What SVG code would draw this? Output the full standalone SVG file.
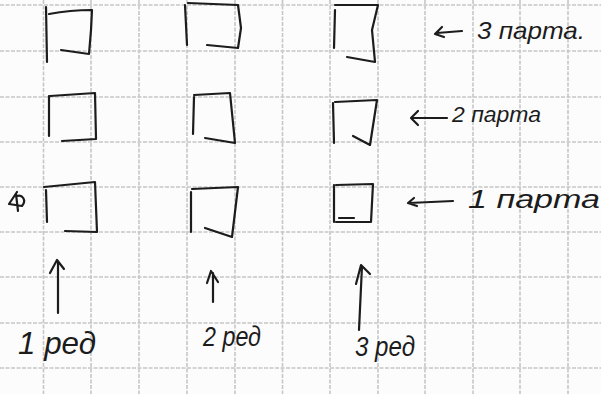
<svg xmlns="http://www.w3.org/2000/svg" width="601" height="394" viewBox="0 0 601 394">
<style>
.grid line{stroke:#c6c6c6;stroke-width:1.6;stroke-dasharray:4 1.5}
.ink{fill:none;stroke:#1c1c1c;stroke-width:2.2;stroke-linecap:round;stroke-linejoin:round}
.hand{font-family:"Liberation Sans",Arial,sans-serif;font-style:italic;fill:#1c1c1c}
</style>
<rect width="601" height="394" fill="#fcfcfc"/>
<g class="grid">
<line x1="43.5" y1="0" x2="43.5" y2="394"/>
<line x1="91" y1="0" x2="91" y2="394"/>
<line x1="139" y1="0" x2="139" y2="394"/>
<line x1="187" y1="0" x2="187" y2="394"/>
<line x1="235" y1="0" x2="235" y2="394"/>
<line x1="282.5" y1="0" x2="282.5" y2="394"/>
<line x1="330" y1="0" x2="330" y2="394"/>
<line x1="378" y1="0" x2="378" y2="394"/>
<line x1="425" y1="0" x2="425" y2="394"/>
<line x1="473" y1="0" x2="473" y2="394"/>
<line x1="520" y1="0" x2="520" y2="394"/>
<line x1="568" y1="0" x2="568" y2="394"/>
<line x1="0" y1="5" x2="601" y2="5"/>
<line x1="0" y1="51" x2="601" y2="51"/>
<line x1="0" y1="97" x2="601" y2="97"/>
<line x1="0" y1="142" x2="601" y2="142"/>
<line x1="0" y1="187" x2="601" y2="187"/>
<line x1="0" y1="232" x2="601" y2="232"/>
<line x1="0" y1="277" x2="601" y2="277"/>
<line x1="0" y1="323" x2="601" y2="323"/>
<line x1="0" y1="368" x2="601" y2="368"/>
</g>
<g id="desk-r1-p3"><path class="ink" d="M46,7 L47,62 M49,14 C65,11 80,10 92,10 L91,30 L89,54 L61,50"/></g>
<g id="desk-r1-p2"><path class="ink" d="M49,96 L49,136 M50,96 L95,93 L96,139 L62,141"/></g>
<g id="desk-r1-p1"><path class="ink" d="M46,190 L47,222 M44,187 L95,182 L97,232 L65,231"/></g>
<g id="desk-r2-p3"><path class="ink" d="M185,5 L187,45 M188,3 L238,5 L241,28 L238,48 L207,45"/></g>
<g id="desk-r2-p2"><path class="ink" d="M194,97 L193,134 M194,95 L230,93 L235,143 L205,138"/></g>
<g id="desk-r2-p1"><path class="ink" d="M191,192 L191,232 M192,189 L238,187 L232,237 L205,228"/></g>
<g id="desk-r3-p3"><path class="ink" d="M335,10 L334,48 M335,5 L378,5 L372,30 L375,62 L347,57"/></g>
<g id="desk-r3-p2"><path class="ink" d="M333,103 L334,143 M335,102 L377,100 L370,145 L353,136"/></g>
<g id="desk-r3-p1"><path class="ink" d="M334,185 L334,222 M336,185 L373,184 L371,222 L336,222 M339,218 L354,218"/></g>
<g id="mark"><path class="ink" stroke-width="2" d="M17,192 L9,204 L22,206 C27,200 22,194 17,196 M16,194 L18,211"/></g>
<g id="connectors">
<path class="ink" d="M437,33 L462,31 M442,27 L435,34 L444,37"/>
<path class="ink" d="M412,118 L447,118 M418,111 L411,118 L418,125"/>
<path class="ink" d="M409,203 L453,201 M414,198 L408,203 L417,206"/>
<path class="ink" d="M58,313 L58,262 M50,273 L57,260 L64,269"/>
<path class="ink" d="M213,302 L213,273 M207,283 L211,271 L218,282"/>
<path class="ink" stroke-width="2.6" d="M359,330 L362,266 M356,284 L361,265 L370,274"/>
</g>
<g id="label-p3"><text class="hand" x="477" y="39" font-size="24" textLength="108" lengthAdjust="spacingAndGlyphs">3 парта.</text></g>
<g id="label-p2"><text class="hand" x="452" y="122" font-size="22" textLength="89" lengthAdjust="spacingAndGlyphs">2 парта</text></g>
<g id="label-p1"><text class="hand" x="468" y="208" font-size="26" textLength="132" lengthAdjust="spacingAndGlyphs">1 парта</text></g>
<g id="label-r1"><text class="hand" x="18" y="354" font-size="32" textLength="78" lengthAdjust="spacingAndGlyphs">1 ред</text></g>
<g id="label-r2"><text class="hand" x="203" y="346" font-size="28" textLength="58" lengthAdjust="spacingAndGlyphs">2 ред</text></g>
<g id="label-r3"><text class="hand" x="355" y="356" font-size="28" textLength="60" lengthAdjust="spacingAndGlyphs">3 ред</text></g>
</svg>
